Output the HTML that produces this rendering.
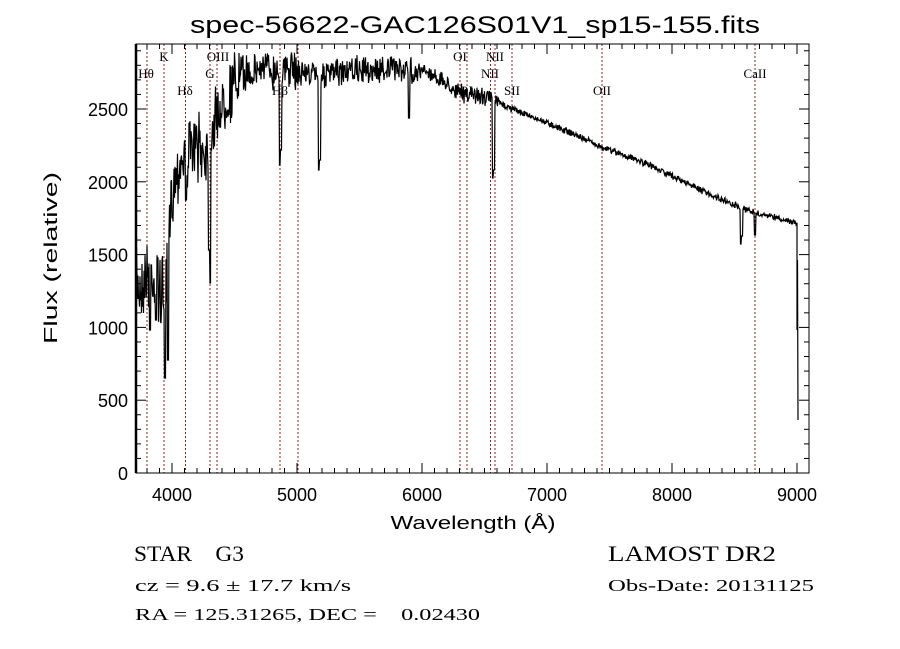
<!DOCTYPE html>
<html><head><meta charset="utf-8"><style>
html,body{margin:0;padding:0;background:#fff;width:900px;height:649px;overflow:hidden}
svg{display:block}
text{white-space:pre}
.t{font-family:"Liberation Sans",sans-serif;fill:#000}
.s{font-family:"Liberation Serif",serif;fill:#000}
</style></head><body>
<svg id="c" width="900" height="649" viewBox="0 0 900 649" xmlns="http://www.w3.org/2000/svg" xml:space="preserve">
<rect width="900" height="649" fill="#fff"/>
<text class="t" x="475" y="33" font-size="24" text-anchor="middle" textLength="570" lengthAdjust="spacingAndGlyphs">spec-56622-GAC126S01V1_sp15-155.fits</text>
<g id="lines" stroke="#8b2020" stroke-width="1" stroke-dasharray="2,2"></g>
<g id="labs" class="s" font-size="13"></g>
<polyline id="spec" fill="none" stroke="#000" stroke-width="1.2"/>
<g id="ax" stroke="#000" stroke-width="1" fill="none"></g>
<g id="tl" class="t" font-size="18"></g>
<text class="t" x="473" y="529" font-size="18" text-anchor="middle" textLength="165" lengthAdjust="spacingAndGlyphs">Wavelength (Å)</text>
<text class="t" transform="translate(57,258) rotate(-90)" font-size="18" text-anchor="middle" textLength="172" lengthAdjust="spacingAndGlyphs">Flux (relative)</text>
<text class="s" x="134" y="561" font-size="22" textLength="110" lengthAdjust="spacingAndGlyphs">STAR    G3</text>
<text class="s" x="135" y="591" font-size="17" textLength="216" lengthAdjust="spacingAndGlyphs">cz = 9.6 ± 17.7 km/s</text>
<text class="s" x="135" y="620" font-size="17" textLength="345" lengthAdjust="spacingAndGlyphs">RA = 125.31265, DEC =    0.02430</text>
<text class="s" x="608" y="561" font-size="22" textLength="168" lengthAdjust="spacingAndGlyphs">LAMOST DR2</text>
<text class="s" x="608" y="591" font-size="17" textLength="206" lengthAdjust="spacingAndGlyphs">Obs-Date: 20131125</text>
</svg>
<script>
var NS="http://www.w3.org/2000/svg";
function el(p,t,a,txt){var e=document.createElementNS(NS,t);for(var k in a)e.setAttribute(k,a[k]);if(txt)e.textContent=txt;document.getElementById(p).appendChild(e);return e;}
var L=136,R=809,T=44,B=473;
function X(w){return 172+(w-4000)*0.125;}
function Y(f){return B-f*0.1456;}
[147,164,185.5,210,217,280,298,460,467,490.5,495,512,602,755].forEach(function(x){el('lines','line',{x1:x,y1:T,x2:x,y2:B});});
[["Hθ",146,78],["K",164,61],["Hδ",185,95],["OIII",218,61],["G",210,78],["Hβ",280,95],["OI",460,61],["NII",495,61],["NII",490,78],["OI",466,95],["SII",512,95],["OII",602,95],["CaII",755,78]].forEach(function(a){el('labs','text',{x:a[1],y:a[2],'text-anchor':'middle'},a[0]);});
var seed=7;function rnd(){seed=(seed*16807)%2147483647;return seed/2147483647-0.5;}
var anc=[[136,290],[150,270],[160,290],[166,300],[172,190],[180,160],[195,148],[205,150],[215,120],[225,100],[240,75],[260,68],[290,70],[320,75],[360,70],[400,68],[430,73],[460,93],[488,97],[498,103],[520,112],[560,128],[602,147],[650,165],[700,190],[735,205],[760,215],[797,222]];
function cont(x){for(var i=0;i<anc.length-1;i++){if(x<=anc[i+1][0]){var a=anc[i],b=anc[i+1];return a[1]+(b[1]-a[1])*(x-a[0])/(b[0]-a[0]);}}return 222;}
function amp(x){if(x<170)return 90;if(x<240)return 75;if(x<300)return 45;if(x<420)return 32;if(x<500)return 20;return 8;}
var dips=[[165,378],[168,360],[150,330],[210,283],[209,250],[280,165],[281,150],[319,170],[320,160],[409,118],[493,178],[494,170],[741,244],[742,236],[755,235],[156,320],[186,200]];
var pts=[];
pts.push("136,360");
for(var x=136.5;x<=797;x+=0.5){var y=cont(x)+rnd()*amp(x)*(0.5+Math.abs(rnd()));
 dips.forEach(function(d){if(Math.abs(x-d[0])<0.6)y=d[1];});
 if(y<T)y=T;pts.push(x.toFixed(1)+","+y.toFixed(1));}
pts.push("797,330");pts.push("797.5,260");pts.push("798,420");
document.getElementById('spec').setAttribute('points',pts.join(' '));
el('ax','rect',{x:L,y:T,width:R-L,height:B-T});
el('ax','line',{x1:L,y1:T,x2:L,y2:B,'stroke-width':2.5});
for(var w=3800;w<=9000;w+=100){var x=X(w);if(x<L||x>R)continue;var mj=(w%1000==0);var len=mj?10:5;
 el('ax','line',{x1:x,y1:B,x2:x,y2:B-len});el('ax','line',{x1:x,y1:T,x2:x,y2:T+len});
 if(mj)el('tl','text',{x:x,y:501,'text-anchor':'middle'},String(w));}
for(var f=0;f<=2900;f+=100){var y=Y(f);var mj=(f%500==0);var len=mj?10:5;
 el('ax','line',{x1:L,y1:y,x2:L+len,y2:y});el('ax','line',{x1:R,y1:y,x2:R-len,y2:y});
 if(mj)el('tl','text',{x:128,y:y+7,'text-anchor':'end'},String(f));}
</script>
</body></html>
